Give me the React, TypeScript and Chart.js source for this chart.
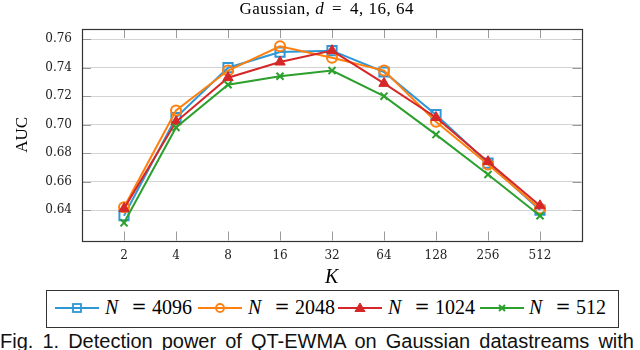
import React, { useEffect, useRef } from "react";
import { Chart, registerables } from "chart.js";

Chart.register(...registerables);

// ---- data ----
const kLabels = ["2", "4", "8", "16", "32", "64", "128", "256", "512"];
const yTicks = [0.64, 0.66, 0.68, 0.7, 0.72, 0.74, 0.76];
const seriesNames = ["4096", "2048", "1024", "512"];
const auc4096 = [0.636, 0.705, 0.74, 0.751, 0.752, 0.737, 0.707, 0.673, 0.64];
const auc2048 = [0.642, 0.71, 0.738, 0.755, 0.747, 0.738, 0.702, 0.672, 0.641];
const auc1024 = [0.641, 0.702, 0.733, 0.744, 0.752, 0.729, 0.705, 0.674, 0.643];
const auc512 = [0.631, 0.698, 0.728, 0.734, 0.738, 0.72, 0.693, 0.665, 0.636];

const seriesValues = [auc4096, auc2048, auc1024, auc512];
const colors = ["#2f97d6", "#ff7f0e", "#d62728", "#2ca02c"];
const pointStyles = ["rect", "circle", "triangle", "crossRot"];
const pointRadii = [6.5, 5, 6, 5];
const pointFills = ["rgba(0,0,0,0)", "rgba(0,0,0,0)", "#d62728", "#2ca02c"];

const frame = {
  id: "frame",
  beforeDatasetsDraw(chart: any) {
    const { ctx, chartArea, scales } = chart;
    const { left, right, top, bottom } = chartArea;
    const x = scales.x;
    const y = scales.y;
    const line = (a: number, b: number, c: number, d: number) => {
      ctx.beginPath();
      ctx.moveTo(a, b);
      ctx.lineTo(c, d);
      ctx.stroke();
    };
    ctx.save();
    ctx.strokeStyle = "#9a9a9a";
    ctx.lineWidth = 1;
    x.ticks.forEach((t: any) => {
      const px = Math.round(x.getPixelForValue(t.value)) + 0.5;
      line(px, top, px, top + 9);
      line(px, bottom, px, bottom - 9);
    });
    y.ticks.forEach((t: any) => {
      const py = Math.round(y.getPixelForValue(t.value)) + 0.5;
      line(left, py, left + 9, py);
      line(right, py, right - 9, py);
    });
    ctx.strokeStyle = "#333";
    ctx.lineWidth = 1.2;
    const l = Math.round(left) + 0.5;
    const t0 = Math.round(top) + 0.5;
    ctx.strokeRect(l, t0, Math.round(right) - Math.round(left), Math.round(bottom) - Math.round(top));
    ctx.restore();
  },
};

function Swatch({ x, idx }: { x: number; idx: number }) {
  const c = colors[idx];
  const w = 44;
  const cx = w / 2;
  const cy = 6;
  let marker: any = null;
  if (idx === 0) marker = <rect x={cx - 4} y={cy - 4} width={8} height={8} fill="none" stroke={c} strokeWidth={1.8} />;
  if (idx === 1) marker = <circle cx={cx} cy={cy} r={4} fill="none" stroke={c} strokeWidth={1.8} />;
  if (idx === 2) marker = <polygon points={`${cx - 5},${cy + 3.5} ${cx + 5},${cy + 3.5} ${cx},${cy - 5}`} fill={c} stroke={c} strokeWidth={1} />;
  if (idx === 3)
    marker = (
      <g stroke={c} strokeWidth={2}>
        <line x1={cx - 3} y1={cy - 3} x2={cx + 3} y2={cy + 3} />
        <line x1={cx - 3} y1={cy + 3} x2={cx + 3} y2={cy - 3} />
      </g>
    );
  return (
    <svg width={w} height={12} style={{ position: "absolute", left: x, top: 302 }}>
      <line x1={0} y1={cy} x2={w} y2={cy} stroke={c} strokeWidth={2.2} />
      {marker}
    </svg>
  );
}

function LegendText({ x, name }: { x: number; name: string }) {
  const base: any = {
    position: "absolute",
    top: 296.5,
    fontFamily: "Liberation Serif",
    fontSize: 20,
    lineHeight: "20px",
    whiteSpace: "nowrap",
    color: "#000",
  };
  return (
    <>
      <span style={{ ...base, left: x, fontStyle: "italic" }}>N</span>
      <span style={{ ...base, left: x + 26, width: 16, textAlign: "center", fontFamily: "DejaVu Serif", fontSize: 18 }}>=</span>
      <span style={{ ...base, left: x + 47 }}>{name}</span>
    </>
  );
}

export default function App() {
  const ref = useRef<HTMLCanvasElement>(null);

  useEffect(() => {
    if (!ref.current) return;
    const order = [3, 2, 1, 0];
    const chart = new Chart(ref.current, {
      type: "line",
      data: {
        datasets: seriesValues.map((vals, i) => ({
          label: "N = " + seriesNames[i],
          data: vals.map((v, k) => ({ x: k, y: v })),
          borderColor: colors[i],
          backgroundColor: pointFills[i],
          borderWidth: 2,
          pointStyle: pointStyles[i] as any,
          pointRadius: pointRadii[i],
          pointBorderWidth: i === 2 ? 1 : 2,
          pointBackgroundColor: pointFills[i],
          pointBorderColor: colors[i],
          tension: 0,
          fill: false,
          order: order[i],
        })),
      },
      options: {
        responsive: false,
        animation: false,
        devicePixelRatio: 1,
        layout: { padding: { top: 29, left: 0, right: 58.5, bottom: 0 } },
        plugins: { legend: { display: false }, title: { display: false }, tooltip: { enabled: false } },
        scales: {
          x: {
            type: "linear",
            min: -0.808,
            max: 8.798,
            afterBuildTicks: (s: any) => {
              s.ticks = kLabels.map((_, i) => ({ value: i }));
            },
            afterFit: (s: any) => {
              s.height = 49.5;
            },
            grid: { display: false, drawTicks: false },
            border: { display: false },
            ticks: {
              autoSkip: false,
              maxRotation: 0,
              padding: 8,
              color: "#222",
              font: { family: "DejaVu Serif", size: 12 },
              callback: (_v: any, i: number) => kLabels[i],
            },
            title: {
              display: true,
              text: "K",
              color: "#000",
              font: { family: "Liberation Serif", size: 20, style: "italic" },
              padding: { top: 0, bottom: 0 },
            },
          },
          y: {
            type: "linear",
            min: 0.6186,
            max: 0.7672,
            afterBuildTicks: (s: any) => {
              s.ticks = yTicks.map((v) => ({ value: v }));
            },
            afterFit: (s: any) => {
              s.width = 82;
            },
            grid: { color: "#d3d3d3", lineWidth: 1, drawTicks: false },
            border: { display: false },
            ticks: {
              padding: 10,
              color: "#222",
              font: { family: "DejaVu Serif", size: 12 },
              callback: (v: any) => Number(v).toFixed(2),
            },
            title: {
              display: true,
              text: "AUC",
              color: "#000",
              font: { family: "Liberation Serif", size: 17 },
              padding: { top: 12, bottom: 0 },
            },
          },
        },
      },
      plugins: [frame],
    });
    return () => chart.destroy();
  }, []);

  const legendX = [105, 248, 388, 529];
  const swatchX = [55, 198, 338, 480];

  return (
    <div style={{ position: "absolute", left: 0, top: 0, width: 640, height: 350, overflow: "hidden", background: "#fff" }}>
      <canvas ref={ref} width={640} height={290} style={{ position: "absolute", left: 0, top: 0 }} />
      <div
        style={{
          position: "absolute",
          left: 126.7,
          top: 0,
          width: 400,
          textAlign: "center",
          fontFamily: "Liberation Serif",
          fontSize: 17,
          lineHeight: "17px",
          letterSpacing: "0.5px",
          color: "#000",
          whiteSpace: "nowrap",
        }}
      >
        Gaussian, <i>d</i>
        <span style={{ margin: "0 3px" }}> = </span>4, 16, 64
      </div>
      <div
        style={{
          position: "absolute",
          left: 46,
          top: 290,
          width: 571,
          height: 36,
          border: "1.2px solid #333",
        }}
      />
      {seriesNames.map((n, i) => (
        <React.Fragment key={n}>
          <Swatch x={swatchX[i]} idx={i} />
          <LegendText x={legendX[i]} name={n} />
        </React.Fragment>
      ))}
      <div
        style={{
          position: "absolute",
          left: 0,
          top: 331,
          fontFamily: "Liberation Sans",
          fontSize: 20,
          lineHeight: "20px",
          wordSpacing: "3.5px",
          whiteSpace: "nowrap",
          color: "#111",
        }}
      >
        Fig. 1. Detection power of QT-EWMA on Gaussian datastreams with
      </div>
    </div>
  );
}
